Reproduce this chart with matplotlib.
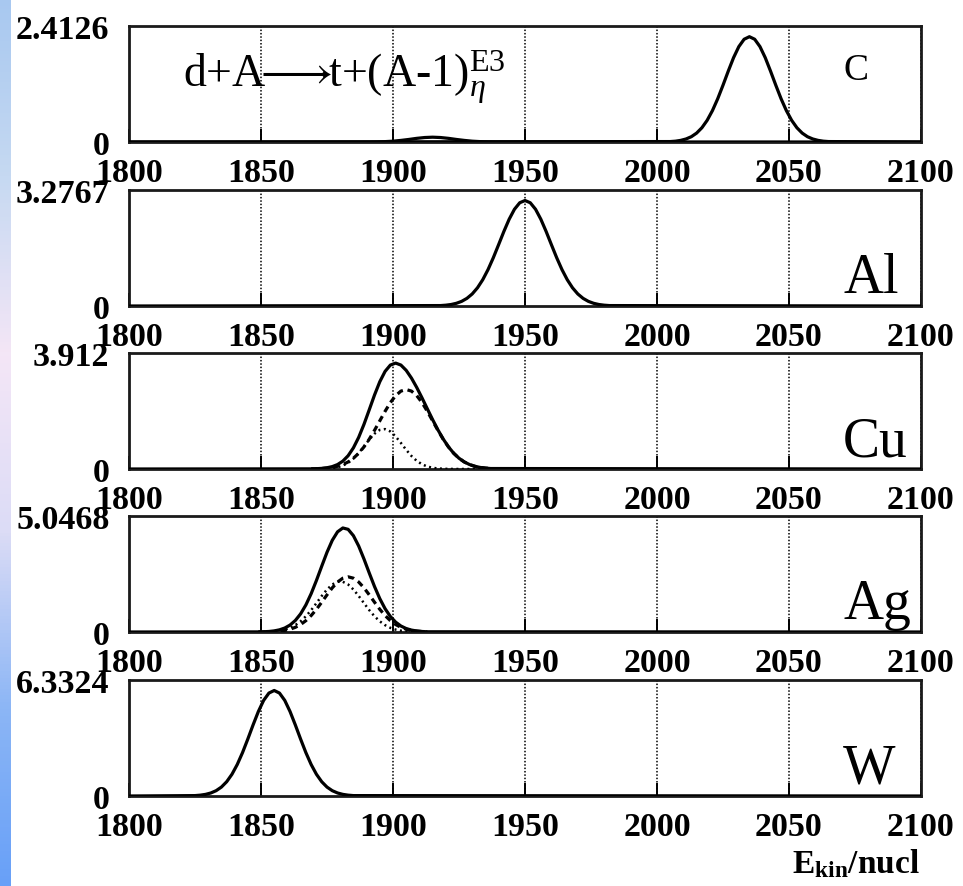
import numpy as np
import matplotlib
matplotlib.use("Agg")
import matplotlib.pyplot as plt
from matplotlib.colors import LinearSegmentedColormap

plt.rcParams['font.family'] = ['Liberation Serif', 'DejaVu Serif']
plt.rcParams['mathtext.fontset'] = 'custom'
plt.rcParams['mathtext.rm'] = 'Liberation Serif'
plt.rcParams['mathtext.it'] = 'Liberation Serif:italic'
plt.rcParams['mathtext.bf'] = 'Liberation Serif:bold'

# --- data ---
x_ticks = [1800, 1850, 1900, 1950, 2000, 2050, 2100]
targets = ['C', 'Al', 'Cu', 'Ag', 'W']
y_max = [2.4126, 3.2767, 3.912, 5.0468, 6.3324]
y_max_labels = ['2.4126', '3.2767', '3.912', '5.0468', '6.3324']

c_x = list(range(2005, 2066, 2))
c_y = [0.009, 0.017, 0.034, 0.063, 0.110, 0.185, 0.296, 0.451, 0.653, 0.900, 1.181,
       1.475, 1.754, 1.984, 2.137, 2.190, 2.137, 1.984, 1.754, 1.475, 1.181,
       0.900, 0.653, 0.451, 0.296, 0.185, 0.110, 0.063, 0.034, 0.017, 0.009]
c_bump_x = [1891, 1894, 1897, 1900, 1903, 1906, 1909, 1912, 1915,
            1918, 1921, 1924, 1927, 1930, 1933, 1936, 1939]
c_bump_y = [0.001, 0.003, 0.008, 0.017, 0.033, 0.053, 0.076, 0.093, 0.100,
            0.093, 0.076, 0.053, 0.033, 0.017, 0.008, 0.003, 0.001]

al_x = list(range(1918, 1983, 2))
al_y = [0.012, 0.023, 0.042, 0.076, 0.131, 0.216, 0.340, 0.514, 0.743, 1.029, 1.364,
        1.732, 2.106, 2.451, 2.732, 2.916, 2.980, 2.916, 2.732, 2.451, 2.106, 1.732,
        1.364, 1.029, 0.743, 0.514, 0.340, 0.216, 0.131, 0.076, 0.042, 0.023, 0.012]

cu_x = list(range(1869, 1938, 2))
cu_total = [0.005, 0.010, 0.021, 0.042, 0.081, 0.150, 0.266, 0.448, 0.713, 1.067,
            1.505, 1.997, 2.496, 2.944, 3.292, 3.505, 3.572, 3.505, 3.326, 3.065,
            2.748, 2.397, 2.030, 1.666, 1.323, 1.014, 0.748, 0.531, 0.363, 0.238,
            0.150, 0.091, 0.053, 0.030, 0.016]
cu_dash = [0.004, 0.008, 0.016, 0.030, 0.053, 0.091, 0.150, 0.238, 0.363, 0.530,
           0.745, 1.006, 1.305, 1.625, 1.946, 2.239, 2.474, 2.627, 2.680, 2.627,
           2.474, 2.239, 1.946, 1.625, 1.305, 1.006, 0.745, 0.530, 0.363, 0.238,
           0.150, 0.091, 0.053, 0.030, 0.016]
cu_dot = [0.001, 0.002, 0.005, 0.012, 0.028, 0.059, 0.116, 0.210, 0.350, 0.537,
          0.760, 0.991, 1.191, 1.319, 1.346, 1.266, 1.098, 0.878, 0.646, 0.438,
          0.274, 0.158, 0.084, 0.041, 0.018, 0.008, 0.003, 0.001, 0.000, 0.000,
          0.000, 0.000, 0.000, 0.000, 0.000]

ag_x = list(range(1849, 1914, 2))
ag_total = [0.005, 0.011, 0.023, 0.048, 0.094, 0.173, 0.302, 0.501, 0.789, 1.177,
            1.668, 2.243, 2.862, 3.467, 3.989, 4.359, 4.526, 4.467, 4.191, 3.741,
            3.178, 2.569, 1.978, 1.451, 1.014, 0.675, 0.429, 0.260, 0.150, 0.083,
            0.044, 0.022, 0.010]
ag_dash = [0.002, 0.004, 0.009, 0.019, 0.037, 0.069, 0.121, 0.203, 0.325, 0.494,
           0.716, 0.987, 1.295, 1.617, 1.922, 2.174, 2.341, 2.400, 2.341, 2.174,
           1.922, 1.617, 1.295, 0.987, 0.716, 0.494, 0.325, 0.203, 0.121, 0.069,
           0.037, 0.019, 0.009]
ag_dot = [0.003, 0.007, 0.014, 0.029, 0.057, 0.104, 0.181, 0.298, 0.464, 0.683,
          0.952, 1.256, 1.567, 1.850, 2.067, 2.185, 2.185, 2.067, 1.850, 1.567,
          1.256, 0.952, 0.683, 0.464, 0.298, 0.181, 0.104, 0.057, 0.029, 0.014,
          0.007, 0.003, 0.001]

w_x = list(range(1825, 1886, 2))
w_y = [0.022, 0.046, 0.089, 0.165, 0.290, 0.487, 0.779, 1.186, 1.718, 2.368, 3.107,
       3.880, 4.612, 5.219, 5.619, 5.760, 5.619, 5.219, 4.612, 3.880, 3.107,
       2.368, 1.718, 1.186, 0.779, 0.487, 0.290, 0.165, 0.089, 0.046, 0.022]


def full_range(x, y):
    # the solid curve lies on the baseline across the whole axis
    return [x_ticks[0]] + list(x) + [x_ticks[-1]], [0.0] + list(y) + [0.0]


W, H = 963, 887
fig = plt.figure(figsize=(W / 100, H / 100), dpi=100)

# blue gradient strip on the left edge
strip = fig.add_axes([0, 0, 10 / W, 1])
cmap = LinearSegmentedColormap.from_list(
    'strip', ['#68a0f8', '#8cb6f5', '#dcdcf6', '#f4e6f6', '#c6d9f2', '#a8c8f0'])
strip.imshow(np.linspace(0, 1, 256).reshape(-1, 1), aspect='auto', cmap=cmap,
             origin='lower', extent=[0, 1, 0, 1])
strip.axis('off')

panel_top = [27, 191, 354, 517, 681]
panel_h = 116
left, right = 129, 921

curves = [
    [(c_x, c_y, '-'), (c_bump_x, c_bump_y, '-')],
    [(al_x, al_y, '-')],
    [(cu_x, cu_total, '-'), (cu_x, cu_dash, '--'), (cu_x, cu_dot, ':')],
    [(ag_x, ag_total, '-'), (ag_x, ag_dash, '--'), (ag_x, ag_dot, ':')],
    [(w_x, w_y, '-')],
]

for i, name in enumerate(targets):
    ax = fig.add_axes([left / W, 1 - (panel_top[i] + panel_h) / H,
                       (right - left) / W, panel_h / H])
    for x, y, ls in curves[i]:
        if ls == '-':
            xx, yy = full_range(x, y)
            ax.plot(xx, yy, color='black', lw=2.3, zorder=3)
        elif ls == '--':
            ax.plot(x, y, color='black', lw=2.3, linestyle=(0, (2.0, 1.5)), zorder=3)
        else:
            ax.plot(x, y, color='black', lw=1.8, linestyle=(0, (0.8, 1.4)), zorder=3)

    ax.set_xlim(x_ticks[0], x_ticks[-1])
    ax.set_ylim(0, y_max[i])
    ax.set_xticks(x_ticks)
    ax.set_xticklabels([str(t) for t in x_ticks], fontsize=24.5, fontweight='bold')
    ax.set_yticks([0, y_max[i]])
    ax.set_yticklabels(['0', y_max_labels[i]], fontsize=24.5, fontweight='bold')
    ax.tick_params(axis='x', direction='in', length=9.5, width=1.4, pad=11, top=False)
    ax.tick_params(axis='y', length=0, pad=14)
    ax.grid(axis='x', color='black', linestyle=(0, (1, 1.2)), lw=1.1)
    ax.set_axisbelow(True)
    for sp in ax.spines.values():
        sp.set_linewidth(2.0)
        sp.set_color('#1a1a1a')

    if name == 'C':
        fig.text(843 / W, 1 - 80 / H, name, fontsize=27, ha='left', va='baseline')
    else:
        fig.text(843 / W, 1 - (panel_top[i] + panel_h - 0.12 * panel_h) / H, name,
                 fontsize=40, ha='left', va='baseline')

fig.text(183 / W, 1 - 86 / H,
         r'd+A$\!\!\longrightarrow\!\!$t+(A-1)$_{\eta}^{\mathrm{E3}}$',
         fontsize=33, ha='left', va='baseline')

fig.text(920 / W, 1 - 873 / H, r'E$_{\mathbf{kin}}$/nucl', fontsize=24,
         fontweight='bold', ha='right', va='baseline')

fig.savefig('out.png', dpi=100)
